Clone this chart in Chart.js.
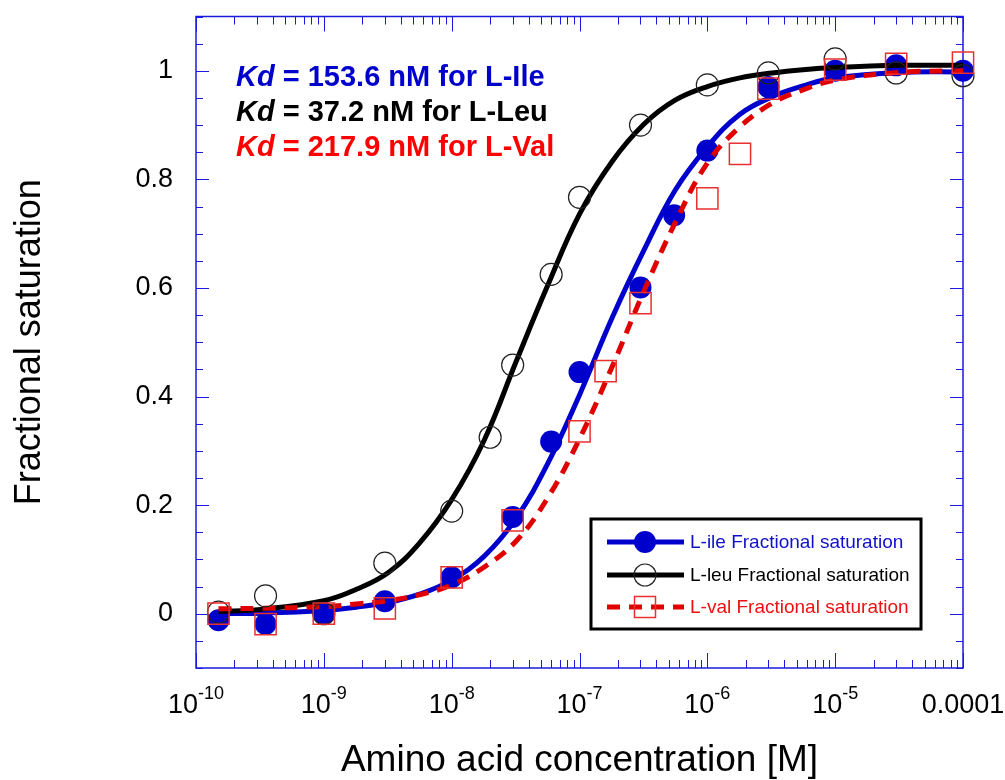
<!DOCTYPE html>
<html>
<head>
<meta charset="utf-8">
<script src="https://cdn.jsdelivr.net/npm/chart.js@4.4.1/dist/chart.umd.min.js"></script>
<style>
  html, body { margin: 0; padding: 0; background: #ffffff; }
  #wrap { width: 1005px; height: 780px; position: relative; }
</style>
</head>
<body>
<div id="wrap"><canvas id="c" width="1005" height="780"></canvas></div>
<script>
// ---------------- DATA ----------------
const ileConc = [1.5e-10, 3.5e-10, 1e-9, 3e-9, 1e-8, 3e-8, 6e-8, 1e-7, 3e-7, 5.5e-7, 1e-6, 3e-6, 1e-5, 3e-5, 1e-4];
const ileSat  = [-0.012, -0.019, 0.0, 0.023, 0.067, 0.178, 0.317, 0.445, 0.601, 0.734, 0.853, 0.970, 1.0, 1.01, 1.0];

const leuConc = [1.5e-10, 3.5e-10, 1e-9, 3e-9, 1e-8, 2e-8, 3e-8, 6e-8, 1e-7, 3e-7, 1e-6, 3e-6, 1e-5, 3e-5, 1e-4];
const leuSat  = [0.003, 0.033, 0.0, 0.093, 0.189, 0.325, 0.458, 0.625, 0.767, 0.900, 0.974, 0.996, 1.022, 0.996, 0.991];

const valConc = [1.5e-10, 3.5e-10, 1e-9, 3e-9, 1e-8, 3e-8, 1e-7, 1.6e-7, 3e-7, 1e-6, 1.8e-6, 3e-6, 1e-5, 3e-5, 1e-4];
const valSat  = [0.0, -0.019, 0.0, 0.010, 0.067, 0.172, 0.336, 0.447, 0.572, 0.765, 0.847, 0.967, 1.002, 1.013, 1.015];

// fitted curves
const fitConc = [1.5e-10, 3.2e-10, 1e-9, 1.8e-9, 3.2e-9, 5.6e-9, 1e-8, 1.8e-8, 3.2e-8, 5.6e-8, 1e-7, 1.8e-7, 3.2e-7, 5.6e-7, 1e-6, 1.8e-6, 3.2e-6, 5.6e-6, 1e-5, 3.2e-5, 1e-4];
const ileFit  = [0.0, 0.001, 0.006, 0.012, 0.021, 0.036, 0.062, 0.106, 0.176, 0.275, 0.403, 0.545, 0.67, 0.78, 0.86, 0.92, 0.952, 0.972, 0.987, 0.997, 0.998];
const leuFit  = [0.004, 0.008, 0.024, 0.045, 0.076, 0.13, 0.21, 0.32, 0.465, 0.603, 0.736, 0.833, 0.902, 0.946, 0.971, 0.987, 0.996, 1.002, 1.006, 1.01, 1.01];
const valFit  = [0.009, 0.010, 0.013, 0.018, 0.024, 0.035, 0.053, 0.086, 0.134, 0.212, 0.322, 0.455, 0.595, 0.72, 0.83, 0.897, 0.94, 0.965, 0.983, 0.997, 1.0];

const xTickValues = [1e-10, 1e-9, 1e-8, 1e-7, 1e-6, 1e-5, 1e-4];
const xTickLabels = ['10^-10', '10^-9', '10^-8', '10^-7', '10^-6', '10^-5', '0.0001'];
const yTickValues = [0, 0.2, 0.4, 0.6, 0.8, 1];
const yTickLabels = ['0', '0.2', '0.4', '0.6', '0.8', '1'];

const legendLabels = ['L-ile Fractional saturation', 'L-leu Fractional saturation', 'L-val Fractional saturation'];
const kdNames  = ['L-Ile', 'L-Leu', 'L-Val'];
const kdValues = ['153.6', '37.2', '217.9'];

// ---------------- STYLE ----------------
const FONT = '"Liberation Sans", Arial, Helvetica, sans-serif';
const BLUE = '#0000cc', BLACK = '#000000', RED = '#e00000';
const FRAME = '#1a1ae0';
const kdColors = [BLUE, BLACK, '#ff0000'];
const legendColors = ['#1010cc', '#000000', '#ee1010'];

function pts(xs, ys) { return xs.map((x, i) => ({x: x, y: ys[i]})); }

const decorPlugin = {
  id: 'decor',
  beforeDatasetsDraw(chart) {
    const {ctx, chartArea: a, scales} = chart;
    const xs = scales.x, ys = scales.y;
    ctx.save();
    ctx.strokeStyle = FRAME;
    ctx.lineWidth = 1.5;
    ctx.strokeRect(a.left, a.top, a.right - a.left, a.bottom - a.top);
    ctx.lineWidth = 1;
    for (let k = -2; k <= 22; k++) {
      const v = k * 0.05;
      const py = Math.round(ys.getPixelForValue(v)) + 0.5;
      const major = (k % 4 === 0);
      const len = major ? 13 : 7;
      ctx.beginPath();
      ctx.moveTo(a.left, py); ctx.lineTo(a.left + len, py);
      ctx.moveTo(a.right, py); ctx.lineTo(a.right - len, py);
      ctx.stroke();
    }
    for (let d = -10; d <= -4; d++) {
      for (let m = 1; m <= 9; m++) {
        if (d === -4 && m > 1) break;
        const v = m * Math.pow(10, d);
        const px = Math.round(xs.getPixelForValue(v)) + 0.5;
        const len = m === 1 ? 15 : 8;
        ctx.beginPath();
        ctx.moveTo(px, a.bottom); ctx.lineTo(px, a.bottom - len);
        ctx.moveTo(px, a.top); ctx.lineTo(px, a.top + len);
        ctx.stroke();
      }
    }
    ctx.restore();
  },
  afterDraw(chart) {
    const {ctx, chartArea: a, scales} = chart;
    const xs = scales.x;
    ctx.save();
    ctx.fillStyle = '#000';
    ctx.textBaseline = 'alphabetic';
    ctx.textAlign = 'left';
    xTickValues.forEach((v, i) => {
      const lab = xTickLabels[i];
      const px = xs.getPixelForValue(v);
      if (lab.indexOf('^') >= 0) {
        const [base, exp] = lab.split('^');
        ctx.font = '27px ' + FONT;
        const wb = ctx.measureText(base).width;
        ctx.font = '18px ' + FONT;
        const we = ctx.measureText(exp).width;
        const x0 = px - (wb + we) / 2;
        ctx.font = '27px ' + FONT;
        ctx.fillText(base, x0, a.bottom + 45);
        ctx.font = '18px ' + FONT;
        ctx.fillText(exp, x0 + wb, a.bottom + 31);
      } else {
        ctx.font = '27px ' + FONT;
        const w = ctx.measureText(lab).width;
        ctx.fillText(lab, px - w / 2, a.bottom + 45);
      }
    });

    kdNames.forEach((n, i) => {
      const x = a.left + 40;
      const y = a.top + 69 + i * 35;
      ctx.fillStyle = kdColors[i];
      ctx.font = 'italic bold 29px ' + FONT;
      ctx.fillText('Kd', x, y);
      const w = ctx.measureText('Kd').width;
      ctx.font = 'bold 29px ' + FONT;
      ctx.fillText(' = ' + kdValues[i] + ' nM for ' + n, x + w, y);
    });

    const bl = a.right - 372, br = a.right - 42, bt = a.bottom - 149, bb = a.bottom - 39;
    ctx.fillStyle = '#fff';
    ctx.fillRect(bl, bt, br - bl, bb - bt);
    ctx.strokeStyle = '#000';
    ctx.lineWidth = 3;
    ctx.strokeRect(bl, bt, br - bl, bb - bt);
    const rows = [bt + 23, bt + 56, bt + 88];
    const lx0 = bl + 16, lx1 = bl + 93, mx = bl + 54, tx = bl + 99;
    rows.forEach((ry, i) => {
      ctx.lineWidth = 5;
      ctx.beginPath();
      if (i === 0) { ctx.strokeStyle = BLUE; ctx.setLineDash([]); }
      if (i === 1) { ctx.strokeStyle = BLACK; ctx.setLineDash([]); }
      if (i === 2) { ctx.strokeStyle = RED; ctx.setLineDash([13, 9]); }
      ctx.moveTo(lx0, ry); ctx.lineTo(lx1, ry);
      ctx.stroke();
      ctx.setLineDash([]);
      if (i === 0) {
        ctx.fillStyle = BLUE;
        ctx.beginPath(); ctx.arc(mx, ry, 11, 0, Math.PI * 2); ctx.fill();
      } else if (i === 1) {
        ctx.lineWidth = 1.2; ctx.strokeStyle = '#222';
        ctx.beginPath(); ctx.arc(mx, ry, 11, 0, Math.PI * 2); ctx.stroke();
      } else {
        ctx.lineWidth = 1.5; ctx.strokeStyle = '#e83030';
        ctx.strokeRect(mx - 10.5, ry - 10.5, 21, 21);
      }
      ctx.fillStyle = legendColors[i];
      ctx.font = '19px ' + FONT;
      ctx.textBaseline = 'middle';
      ctx.fillText(legendLabels[i], tx, ry + 1);
      ctx.textBaseline = 'alphabetic';
    });
    ctx.restore();
  }
};

const cfg = {
  type: 'scatter',
  data: {
    datasets: [
      { label: 'L-val points', data: pts(valConc, valSat), showLine: false,
        pointStyle: 'rect', pointRadius: 15, pointBorderWidth: 1.5,
        pointBorderColor: '#e83030', pointBackgroundColor: 'rgba(0,0,0,0)', order: 0, clip: false },
      { label: 'L-leu points', data: pts(leuConc, leuSat), showLine: false,
        pointStyle: 'circle', pointRadius: 11, pointBorderWidth: 1.2,
        pointBorderColor: '#222', pointBackgroundColor: 'rgba(0,0,0,0)', order: 1, clip: false },
      { label: 'L-val fit', data: pts(fitConc, valFit), showLine: true, pointRadius: 0,
        borderColor: RED, borderWidth: 5, borderDash: [13, 9], tension: 0.4,
        fill: false, order: 2, clip: false },
      { label: 'L-leu fit', data: pts(fitConc, leuFit), showLine: true, pointRadius: 0,
        borderColor: BLACK, borderWidth: 5, tension: 0.4,
        fill: false, order: 3, clip: false },
      { label: 'L-ile fit', data: pts(fitConc, ileFit), showLine: true, pointRadius: 0,
        borderColor: BLUE, borderWidth: 5, tension: 0.4,
        fill: false, order: 4, clip: false },
      { label: 'L-ile points', data: pts(ileConc, ileSat), showLine: false,
        pointStyle: 'circle', pointRadius: 11, pointBorderWidth: 0,
        pointBackgroundColor: BLUE, pointBorderColor: BLUE, order: 5, clip: false }
    ]
  },
  options: {
    responsive: false,
    animation: false,
    events: [],
    layout: { padding: { left: 0, right: 42, top: 16, bottom: 0 } },
    plugins: { legend: { display: false }, tooltip: { enabled: false } },
    scales: {
      x: {
        type: 'logarithmic', min: 1e-10, max: 1e-4,
        grid: { display: false, drawTicks: false },
        border: { display: false },
        ticks: { display: false },
        title: { display: true, text: 'Amino acid concentration [M]', color: '#000',
                 font: { family: FONT, size: 37, lineHeight: 1.0 }, padding: { top: 0, bottom: 1 } },
        afterFit(s) { s.height = 112; s.paddingLeft = 0; s.paddingRight = 0; }
      },
      y: {
        type: 'linear', min: -0.1, max: 1.1,
        grid: { display: false, drawTicks: false },
        border: { display: false },
        afterBuildTicks(s) { s.ticks = yTickValues.map(v => ({ value: v })); },
        ticks: {
          color: '#000', padding: 23,
          font: { family: FONT, size: 27 },
          callback(v) { const i = yTickValues.indexOf(v); return i >= 0 ? yTickLabels[i] : ''; }
        },
        title: { display: true, text: 'Fractional saturation', color: '#000',
                 font: { family: FONT, size: 36, lineHeight: 1.0 }, padding: { top: 12, bottom: 0 } },
        afterFit(s) { s.width = 196; s.paddingTop = 0; s.paddingBottom = 0; }
      }
    }
  },
  plugins: [decorPlugin]
};

new Chart(document.getElementById('c'), cfg);
</script>
</body>
</html>
